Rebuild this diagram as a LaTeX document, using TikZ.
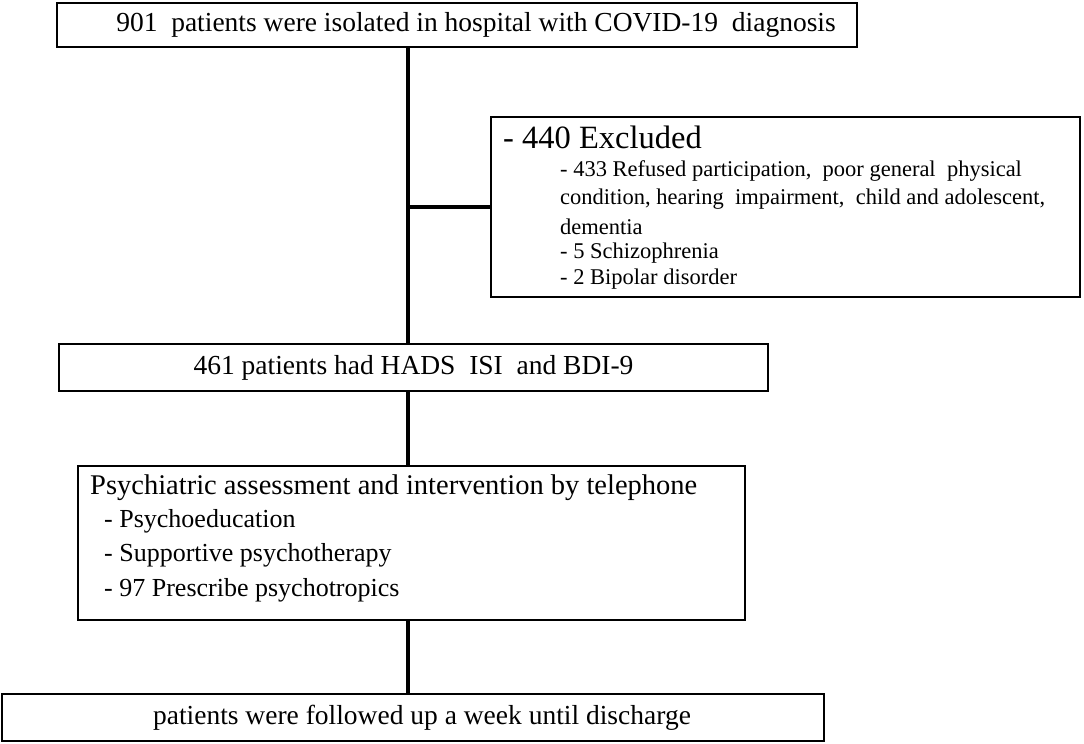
\documentclass[tikz,border=0pt]{standalone}
\usepackage{fontspec}
\setmainfont{Liberation Serif}
\begin{document}
\begin{tikzpicture}[x=1pt,y=-1pt,
  box/.style={draw, line width=1.4pt, inner sep=0pt},
  conn/.style={line width=3.6pt},
  big/.style={font=\fontsize{27.5}{32}\selectfont},
  txt/.style={anchor=west, inner sep=0pt},
  small/.style={txt, font=\fontsize{22.5}{26}\selectfont}]
\useasboundingbox (0,0) rectangle (1084,744);
\coordinate (spine) at (408,0);
\node[box, big, minimum width=800pt, minimum height=44pt] (b1) at (457,25)
  {\hspace*{38pt}901\ \ patients were isolated in hospital with COVID-19\ \ diagnosis};
\node[box, minimum width=589pt, minimum height=180pt] (excl) at (785.5,207) {};
\node[txt, font=\fontsize{32.5}{36}\selectfont] (e0) at (503,137) {- 440 Excluded};
\node[small] (e1) at (560,171) {- 433 Refused participation,\ \ poor general\ \ physical};
\node[small] (e2) at (560,199) {condition, hearing\ \ impairment,\ \ child and adolescent,};
\node[small] (e3) at (560,227) {dementia};
\node[small] (e4) at (560,253) {- 5 Schizophrenia};
\node[small] (e5) at (560,279) {- 2 Bipolar disorder};
\node[box, big, minimum width=709pt, minimum height=47pt] (b2) at (413.5,367.5)
  {461 patients had HADS\ \ ISI\ \ and BDI-9};
\node[box, minimum width=667pt, minimum height=154pt] (b3) at (411.5,543) {};
\node[txt, font=\fontsize{28.5}{32}\selectfont] (p0) at (90,488) {Psychiatric assessment and intervention by telephone};
\node[txt, font=\fontsize{26}{30}\selectfont] (p1) at (104,521) {- Psychoeducation};
\node[txt, font=\fontsize{26}{30}\selectfont] (p2) at (104,555) {- Supportive psychotherapy};
\node[txt, font=\fontsize{26}{30}\selectfont] (p3) at (104,590) {- 97 Prescribe psychotropics};
\node[box, big, minimum width=822pt, minimum height=47pt] (b4) at (413,717.5)
  {\hspace*{18pt}patients were followed up a week until discharge};
\draw[conn] (b1.south -| spine) -- (b2.north -| spine);
\draw[conn] (spine |- excl.west) -- (excl.west);
\draw[conn] (b2.south -| spine) -- (b3.north -| spine);
\draw[conn] (b3.south -| spine) -- (b4.north -| spine);
\end{tikzpicture}
\end{document}
